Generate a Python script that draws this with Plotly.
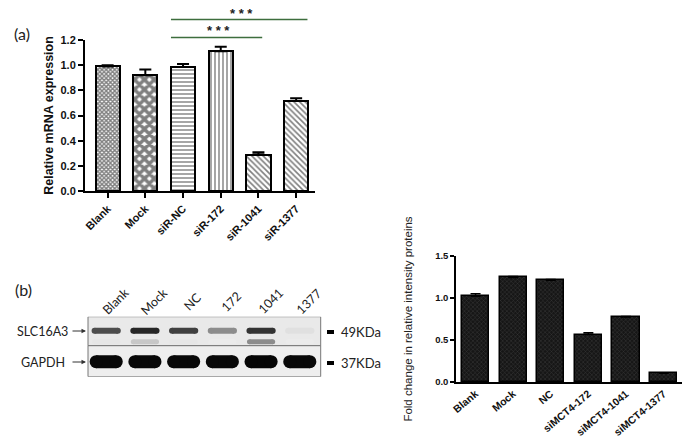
import plotly.graph_objects as go

W, H = 689, 443

# ---------------- data ----------------
a_categories = ["Blank", "Mock", "siR-NC", "siR-172", "siR-1041", "siR-1377"]
a_values = [0.99, 0.92, 0.985, 1.11, 0.29, 0.715]
a_errors = [0.01, 0.045, 0.025, 0.037, 0.017, 0.022]
a_patterns = ["x", "x", "-", "|", "\\", "\\"]

c_categories = ["Blank", "Mock", "NC", "siMCT4-172", "siMCT4-1041", "siMCT4-1377"]
c_values = [1.02, 1.245, 1.21, 0.565, 0.775, 0.105]
c_errors = [0.03, 0.01, 0.01, 0.02, 0.005, 0.005]

blot_lanes = ["Blank", "Mock", "NC", "172", "1041", "1377"]
slc_band = [0.70, 0.85, 0.75, 0.45, 0.80, 0.12]
slc_lower_band = [0.10, 0.22, 0.10, 0.08, 0.45, 0.08]
gapdh_band = [0.97, 0.97, 0.97, 0.97, 0.98, 0.97]

sig_pairs = [("siR-NC", "siR-1041", "* * *"), ("siR-NC", "siR-1377", "* * *")]


def px(x):
    return x / W


def py(y):
    return 1 - y / H


def gray(v, alpha=1.0):
    g = int(round(255 * (1 - v)))
    return f"rgba({g},{g},{g},{alpha})"


AX_FONT = dict(family="Liberation Sans, Arial", size=11, color="#111", weight="bold")
BLOT_FONT = dict(family="Lato, Open Sans", size=12.5, color="#222")

fig = go.Figure()

# ---------------- panel (a) ----------------
fig.add_trace(go.Bar(
    x=a_categories, y=a_values, width=0.64,
    marker=dict(color="white", line=dict(color="black", width=2),
                pattern=dict(shape=a_patterns, size=[3, 7, 4, 4, 4, 4],
                             solidity=[0.7, 0.75, 0.35, 0.35, 0.4, 0.4],
                             fgcolor="black", bgcolor="white", fillmode="overlay")),
    error_y=dict(type="data", array=a_errors, arrayminus=[0] * 6, symmetric=False,
                 color="black", thickness=2, width=6),
    xaxis="x", yaxis="y", showlegend=False))

# ---------------- panel (c) ----------------
fig.add_trace(go.Bar(
    x=c_categories, y=c_values, width=0.72,
    marker=dict(color="#1c1c1c", line=dict(color="black", width=1.5),
                pattern=dict(shape="x", size=3, solidity=0.3, fgcolor="#3a3a3a",
                             bgcolor="#161616", fillmode="replace")),
    error_y=dict(type="data", array=c_errors, arrayminus=[0] * 6, symmetric=False,
                 color="black", thickness=1.5, width=5),
    xaxis="x2", yaxis="y2", showlegend=False))

# ---------------- panel (b) blot ----------------
for i, lane in enumerate(blot_lanes):
    fig.add_trace(go.Scatter(
        x=[i - 0.3, i + 0.3], y=[25, 25], mode="lines+markers",
        line=dict(color=gray(slc_lower_band[i]), width=5),
        marker=dict(size=5, color=gray(slc_lower_band[i])),
        xaxis="x3", yaxis="y3", showlegend=False, hoverinfo="skip"))
    fig.add_trace(go.Scatter(
        x=[i - 0.3, i + 0.3], y=[14, 14], mode="lines+markers",
        line=dict(color=gray(slc_band[i]), width=6),
        marker=dict(size=6, color=gray(slc_band[i])),
        xaxis="x3", yaxis="y3", showlegend=False, hoverinfo="skip"))
    fig.add_trace(go.Scatter(
        x=[i - 0.26, i + 0.26], y=[45, 45], mode="lines+markers",
        line=dict(color=gray(gapdh_band[i]), width=13),
        marker=dict(size=13, color=gray(gapdh_band[i])),
        xaxis="x3", yaxis="y3", showlegend=False, hoverinfo="skip"))

shapes = []
annotations = []

# blot boxes
shapes.append(dict(type="rect", xref="x3 domain", yref="y3", x0=0, x1=1, y0=0, y1=29,
                   fillcolor="#e9e9e9", line=dict(color="#777", width=1), layer="below"))
shapes.append(dict(type="rect", xref="x3 domain", yref="y3", x0=0, x1=1, y0=29, y1=60,
                   fillcolor="#eeeeee", line=dict(color="#777", width=1), layer="below"))

# lane labels (rotated)
for i, lane in enumerate(blot_lanes):
    annotations.append(dict(x=i, y=py(301), xref="x3", yref="paper", text=lane,
                            textangle=-45, showarrow=False, xanchor="center",
                            yanchor="middle", xshift=9, font=BLOT_FONT))

# left row labels + arrows
for label, xx, yy in [("SLC16A3", 15, 331), ("GAPDH", 19, 362)]:
    annotations.append(dict(x=px(xx), y=py(yy), xref="paper", yref="paper", text=label,
                            showarrow=False, xanchor="left", yanchor="middle",
                            font=BLOT_FONT))
    annotations.append(dict(x=px(86), y=py(yy), xref="paper", yref="paper", text="",
                            showarrow=True, ax=-15, ay=0, axref="pixel", ayref="pixel",
                            arrowhead=2, arrowsize=0.9, arrowwidth=1, arrowcolor="#333"))

# size markers
for label, yy in [("49KDa", 332), ("37KDa", 363)]:
    shapes.append(dict(type="rect", xref="paper", yref="paper", x0=px(327), x1=px(334),
                       y0=py(yy + 2), y1=py(yy - 2), fillcolor="black", line=dict(width=0)))
    annotations.append(dict(x=px(339), y=py(yy), xref="paper", yref="paper", text=label,
                            showarrow=False, xanchor="left", yanchor="middle",
                            font=dict(family="Lato, Open Sans", size=13, color="#222")))

# panel letters
annotations.append(dict(x=px(12), y=py(33), xref="paper", yref="paper", text="(a)",
                        showarrow=False, xanchor="left", yanchor="middle",
                        font=dict(family="Lato, Open Sans", size=16, color="#222")))
annotations.append(dict(x=px(13), y=py(289), xref="paper", yref="paper", text="(b)",
                        showarrow=False, xanchor="left", yanchor="middle",
                        font=dict(family="Lato, Open Sans", size=16, color="#222")))

# significance brackets
sig_levels = [py(37.5), py(19.5)]
for (c0, c1, stars), yl in zip(sig_pairs, sig_levels):
    i0 = a_categories.index(c0) - 0.32
    i1 = a_categories.index(c1) + (0.1 if c1 == "siR-1041" else 0.3)
    shapes.append(dict(type="line", xref="x", yref="paper", x0=i0, x1=i1, y0=yl, y1=yl,
                       line=dict(color="#3d6e3d", width=1.5)))
    annotations.append(dict(x=(i0 + i1) / 2 + 0.05, y=yl, xref="x", yref="paper", text=stars,
                            showarrow=False, yanchor="bottom", yshift=-3,
                            font=dict(family="Liberation Sans, Arial", size=13, color="#222",
                                      weight="bold")))

fig.update_layout(
    width=W, height=H, margin=dict(l=0, r=0, t=0, b=0, autoexpand=False),
    paper_bgcolor="white", plot_bgcolor="rgba(0,0,0,0)", bargap=0,
    shapes=shapes, annotations=annotations,
    xaxis=dict(domain=[px(85), px(315)], range=[-0.6, 5.5], anchor="y",
               showline=True, linecolor="black", linewidth=2, ticks="outside",
               ticklen=5, tickwidth=2, tickcolor="black", tickangle=-45,
               tickfont=AX_FONT, showgrid=False, zeroline=False, fixedrange=True),
    yaxis=dict(domain=[py(191), py(40)], range=[0, 1.2], anchor="x",
               showline=True, linecolor="black", linewidth=2, ticks="outside",
               ticklen=5, tickwidth=2, tickcolor="black", dtick=0.2, tickformat=".1f",
               tickfont=AX_FONT, showgrid=False, zeroline=False,
               title=dict(text="Relative mRNA expression", standoff=4,
                          font=dict(family="Liberation Sans, Arial", size=12.5,
                                    color="#111", weight="bold"))),
    xaxis2=dict(domain=[px(456), px(682)], range=[-0.52, 5.49], anchor="y2",
                showline=True, linecolor="black", linewidth=1.5, ticks="",
                tickangle=-40, showgrid=False, zeroline=False,
                tickfont=dict(family="Liberation Sans, Arial", size=10.5, color="#111",
                              weight="bold")),
    yaxis2=dict(domain=[py(382), py(256)], range=[0, 1.5], anchor="x2",
                showline=True, linecolor="black", linewidth=1.5, ticks="outside",
                ticklen=4, tickwidth=1.5, tickcolor="black", dtick=0.5, tickformat=".1f",
                showgrid=False, zeroline=False,
                tickfont=dict(family="Liberation Sans, Arial", size=9.5, color="#111",
                              weight="bold"),
                title=dict(text="Fold change in relative intensity proteins", standoff=20,
                           font=dict(family="Liberation Sans, Arial", size=11.5,
                                     color="#222"))),
    xaxis3=dict(domain=[px(88), px(320.7)], range=[-0.47, 5.54], anchor="y3",
                visible=False, fixedrange=True),
    yaxis3=dict(domain=[py(376.7), py(316.7)], range=[60, 0], anchor="x3",
                visible=False, fixedrange=True),
)

fig.write_html("out.html", config={"displayModeBar": False},
               post_script="document.body.style.margin='0';")
